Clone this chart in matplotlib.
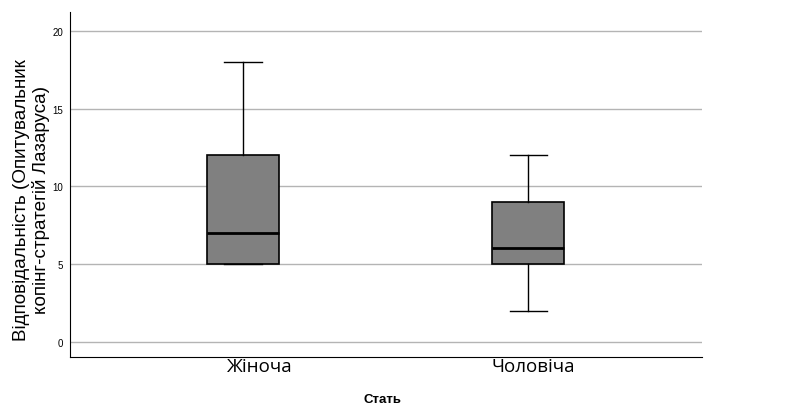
import matplotlib.pyplot as plt
from matplotlib.transforms import ScaledTranslation

groups = ['Жіноча', 'Чоловіча']
mins = [5, 2]
q1s = [5, 5]
medians = [7, 6]
q3s = [12, 9]
maxs = [18, 12]
yticks = [0, 5, 10, 15, 20]

stats = []
for g, lo, a, m, b, hi in zip(groups, mins, q1s, medians, q3s, maxs):
    stats.append({'label': g, 'whislo': lo, 'q1': a, 'med': m, 'q3': b, 'whishi': hi, 'fliers': []})

fig = plt.figure(figsize=(7.88, 4.10), dpi=100)
ax = fig.add_axes([0.0888, 0.127, 0.802, 0.841])

ax.bxp(stats, positions=[1, 2], widths=0.25, patch_artist=True, showfliers=False,
       boxprops=dict(facecolor='#808080', edgecolor='black', linewidth=1.2),
       medianprops=dict(color='black', linewidth=2),
       whiskerprops=dict(color='black', linewidth=1),
       capprops=dict(color='black', linewidth=1), capwidths=0.13)

ax.set_xlim(0.393, 2.61)
ax.set_ylim(-0.98, 21.2)
ax.set_yticks(yticks)
ax.yaxis.grid(True, color='#b4b4b4', linewidth=1)
ax.set_axisbelow(True)
for s in ['top', 'right']:
    ax.spines[s].set_visible(False)
ax.tick_params(length=0)
ax.tick_params(axis='y', labelsize=7, pad=5)
ax.set_xticks([1, 2])
ax.set_xticklabels(groups, fontsize=13.5, family='Open Sans')
ax.tick_params(axis='x', pad=0)
for lab in ax.get_yticklabels():
    lab.set_family('Liberation Sans')
# labels sit a bit right of the boxes in the original
for lab, dx in zip(ax.get_xticklabels(), [12, 4]):
    lab.set_transform(lab.get_transform() + ScaledTranslation(dx / 72, 0, fig.dpi_scale_trans))

ax.set_ylabel('Відповідальність (Опитувальник\nкопінг-стратегій Лазаруса)',
              fontsize=13.6, family='Liberation Sans', linespacing=1.1)
ax.yaxis.set_label_coords(-0.032, 0.458)
ax.set_xlabel('Стать', fontsize=9.5, fontweight='bold', family='Liberation Sans')
ax.xaxis.set_label_coords(0.494, -0.105)

fig.savefig('out.png', dpi=100)
